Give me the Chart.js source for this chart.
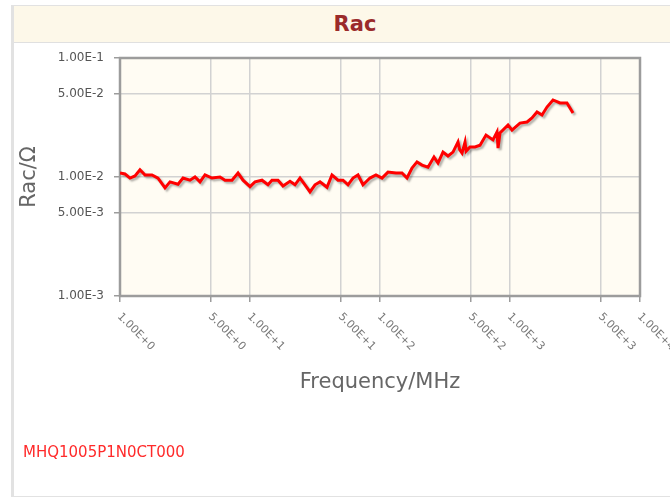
<!DOCTYPE html>
<html>
<head>
<meta charset="utf-8">
<script src="https://cdn.jsdelivr.net/npm/chart.js@4.4.0/dist/chart.umd.min.js"></script>
<style>
  body { margin: 0; background: #fff; overflow: hidden; font-family: "DejaVu Sans", sans-serif; }
  #frame { position: absolute; left: 11px; top: 5px; width: 690px; height: 490px; border-left: 3px solid #e2e2e2; border-top: 1px solid #e2e2e2; border-bottom: 1px solid #e2e2e2; }
  #titleBar { position: absolute; left: 14px; top: 6px; width: 682px; height: 36px; background: #fdf8e9; border-bottom: 1px solid #e0e0e0; text-align: center; font: bold 21px "DejaVu Sans", sans-serif; color: #9b2b2b; line-height: 36px; }
  #seriesName { position: absolute; left: 23px; top: 443px; color: #ff2a2a; font-size: 15px; }
  #wrap { position: absolute; left: 0; top: 0; width: 670px; height: 498px; }
</style>
</head>
<body>
<div id="frame"></div>
<div id="titleBar">Rac</div>
<div id="wrap"><canvas id="myChart" width="670" height="498"></canvas></div>
<div id="seriesName">MHQ1005P1N0CT000</div>

<script>
// values
const seriesName = 'MHQ1005P1N0CT000'

const freqs = [1.00, 1.093, 1.194, 1.304, 1.425, 1.557, 1.762, 1.96, 2.219, 2.424,
  2.794, 3.053, 3.455, 3.775, 4.125, 4.507, 5.1, 5.878, 6.422, 7.274,
  8.089, 8.834, 10, 10.93, 12.37, 13.75, 14.76, 16.42, 17.94, 20.31,
  22.19, 24.25, 26.49, 28.94, 31.62, 34.55, 39.1, 42.72, 47.51, 51.92,
  56.73, 61.98, 67.72, 73.99, 83.75, 93.13, 103.6, 115.2, 132.8, 147.6,
  161.3, 176.3, 192.6, 210.5, 234, 260.2, 279.3, 305.2, 333.5, 364.4,
  398.1, 410, 427.6, 450.9, 460, 492.7, 538.3, 588.2, 653.9, 739.5, 794.3, 809.1,
  837.7, 966, 1036, 1194, 1352, 1476, 1614, 1763, 1926, 2142,
  2425, 2742, 3053]

const racValues = [0.0108, 0.0106, 0.0098, 0.0102, 0.0115, 0.0104, 0.0104, 0.0098, 0.0081, 0.0091,
  0.0087, 0.0098, 0.0094, 0.0100, 0.0091, 0.0104, 0.0098, 0.0100, 0.0094, 0.0094,
  0.0108, 0.0094, 0.0083, 0.0091, 0.0094, 0.0086, 0.0094, 0.0094, 0.0084, 0.0092,
  0.0086, 0.0098, 0.0086, 0.0075, 0.0086, 0.0091, 0.0082, 0.0104, 0.0094, 0.0094,
  0.0086, 0.0098, 0.0104, 0.0086, 0.0098, 0.0104, 0.0098, 0.0110, 0.0108, 0.0108,
  0.0098, 0.0119, 0.0134, 0.0126, 0.0121, 0.0147, 0.0131, 0.0162, 0.0150, 0.0162,
  0.0197, 0.0170, 0.0159, 0.0197, 0.0165, 0.0179, 0.0179, 0.0185, 0.0225, 0.0205, 0.0239, 0.0175,
  0.0234, 0.0274, 0.0248, 0.0284, 0.0290, 0.0313, 0.0352, 0.0332, 0.0387, 0.0444,
  0.0419, 0.0419, 0.0345]

const xTicks = [1, 5, 10, 50, 100, 500, 1000, 5000, 10000]
const xTickLabels = ['1.00E+0', '5.00E+0', '1.00E+1', '5.00E+1', '1.00E+2', '5.00E+2', '1.00E+3', '5.00E+3', '1.00E+4']
const yTicks = [0.001, 0.005, 0.01, 0.05, 0.1]
const yTickLabels = ['1.00E-3', '5.00E-3', '1.00E-2', '5.00E-2', '1.00E-1']

const points = freqs.map((f, i) => ({x: f, y: racValues[i]}))

// plot background, frame and line shadow
const plotDeco = {
  id: 'plotDeco',
  beforeDraw(chart) {
    const {ctx, chartArea: a} = chart
    ctx.save()
    ctx.fillStyle = '#fffcf3'
    ctx.fillRect(a.left, a.top, a.right - a.left, a.bottom - a.top)
    ctx.restore()
  },
  beforeDatasetsDraw(chart) {
    const {ctx, chartArea: a} = chart
    ctx.save()
    ctx.strokeStyle = '#9c9c9c'
    ctx.lineWidth = 2.5
    ctx.strokeRect(a.left, a.top, a.right - a.left, a.bottom - a.top)
    ctx.restore()
    ctx.save()
    ctx.shadowColor = 'rgba(0,0,0,0.3)'
    ctx.shadowOffsetX = 2
    ctx.shadowOffsetY = 2
    ctx.shadowBlur = 2
  },
  afterDatasetsDraw(chart) {
    chart.ctx.restore()
  },
  afterDraw(chart) {
    // x labels turned 45deg clockwise, starting at the tick
    const ctx = chart.ctx
    const xs = chart.scales.x
    ctx.save()
    ctx.font = '11px "DejaVu Sans"'
    ctx.fillStyle = '#777'
    ctx.textAlign = 'left'
    ctx.textBaseline = 'top'
    xTicks.forEach((v, i) => {
      const px = xs.getPixelForValue(v)
      ctx.save()
      ctx.translate(px + 3, xs.top + 15)
      ctx.rotate(Math.PI / 4)
      ctx.fillText(xTickLabels[i], 0, 0)
      ctx.restore()
    })
    ctx.restore()
  }
}

new Chart('myChart', {
  type: 'line',
  data: {
    datasets: [{
      label: seriesName,
      data: points,
      borderColor: '#ff0000',
      borderWidth: 3,
      pointRadius: 0,
      tension: 0,
      fill: false
    }]
  },
  options: {
    responsive: false,
    animation: false,
    layout: {padding: {left: 0, top: 58, right: 30, bottom: 0}},
    plugins: {legend: {display: false}, title: {display: false}, tooltip: {enabled: false}},
    scales: {
      x: {
        type: 'logarithmic',
        min: 1,
        max: 10000,
        afterBuildTicks: s => { s.ticks = xTicks.map(v => ({value: v})) },
        afterFit: s => { s.height = 202 },
        ticks: {display: false},
        grid: {color: '#d2d2d2', lineWidth: 1.5, tickColor: '#9c9c9c', tickLength: 6},
        border: {display: false},
        title: {display: true, text: 'Frequency/MHz', color: '#666', font: {family: 'DejaVu Sans', size: 21}, padding: {top: 0, bottom: 103}}
      },
      y: {
        type: 'logarithmic',
        min: 0.001,
        max: 0.1,
        afterBuildTicks: s => { s.ticks = yTicks.map(v => ({value: v})) },
        afterFit: s => { s.width = 120 },
        ticks: {
          color: '#555',
          font: {family: 'DejaVu Sans', size: 12},
          padding: 10,
          callback: (v, i) => yTickLabels[i]
        },
        grid: {color: '#d2d2d2', lineWidth: 1.5, tickColor: '#9c9c9c', tickLength: 6},
        border: {display: false},
        title: {display: true, text: 'Rac/Ω', color: '#666', font: {family: 'DejaVu Sans', size: 21}, padding: {top: 17, bottom: 0}}
      }
    }
  },
  plugins: [plotDeco]
})
</script>
</body>
</html>
